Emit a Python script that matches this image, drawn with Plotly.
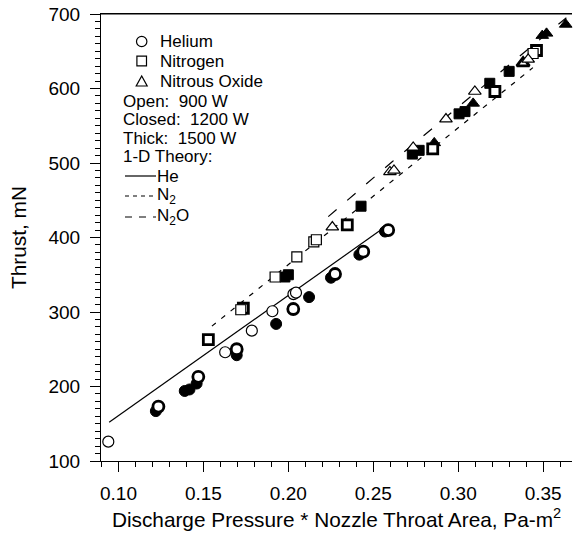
import plotly.graph_objects as go

# ---------------- data ----------------
# Helium
he_open_x = [0.094, 0.1628, 0.1785, 0.1906, 0.2030, 0.2045]
he_open_y = [126, 246, 275, 301, 324, 326]
he_closed_x = [0.1235, 0.147, 0.1696, 0.2029, 0.2275, 0.2441, 0.2588]
he_closed_y = [173, 213, 250, 304, 351, 381, 410]
he_thick_x = [0.122, 0.139, 0.1418, 0.146, 0.1696, 0.1928, 0.2122, 0.2251, 0.2418, 0.2569]
he_thick_y = [167, 194, 196, 204, 242, 284, 320, 346, 377, 408]

# Nitrogen
n2_open_x = [0.172, 0.1922, 0.205, 0.2150, 0.2165, 0.3441]
n2_open_y = [303, 347, 374, 394, 397, 647]
n2_closed_x = [0.1529, 0.1735, 0.2347, 0.285, 0.3216, 0.3461]
n2_closed_y = [263, 305, 417, 519, 596, 651]
n2_thick_x = [0.198, 0.200, 0.2428, 0.273, 0.277, 0.3005, 0.304, 0.3186, 0.330]
n2_thick_y = [347, 350, 442, 512, 517, 566, 569, 607, 623]

# Nitrous oxide
n2o_open_x = [0.2259, 0.2598, 0.2622, 0.2735, 0.2928, 0.3098, 0.3412]
n2o_open_y = [414, 488, 490, 521, 559, 596, 639]
n2o_closed_x = [0.3382]
n2o_closed_y = [634]
n2o_thick_x = [0.2859, 0.3088, 0.3495, 0.352, 0.3633]
n2o_thick_y = [527, 580, 671, 674, 686]

# 1-D theory curves
he_th_x = [0.0945, 0.255]
he_th_y = [152, 411]
n2_th_x = [0.155, 0.344]
n2_th_y = [281, 628]
n2o_th_x = [0.2235, 0.2613, 0.3216, 0.3637]
n2o_th_y = [428, 502, 616, 695]

x_ticks = [0.10, 0.15, 0.20, 0.25, 0.30, 0.35]
y_ticks = [100, 200, 300, 400, 500, 600, 700]

# ---------------- figure ----------------
W, H = 573, 536
ML, MR, MT, MB = 101, 1, 14, 75
FONT = "Liberation Sans, Arial, Helvetica, sans-serif"

fig = go.Figure()

# theory lines
fig.add_trace(go.Scatter(x=he_th_x, y=he_th_y, mode="lines",
                         line=dict(color="black", width=1.2), hoverinfo="skip"))
fig.add_trace(go.Scatter(x=n2_th_x, y=n2_th_y, mode="lines",
                         line=dict(color="black", width=1.2, dash="5px,7px"), hoverinfo="skip"))
fig.add_trace(go.Scatter(x=n2o_th_x, y=n2o_th_y, mode="lines",
                         line=dict(color="black", width=1.2, dash="11px,14px"), hoverinfo="skip"))

SYM = {"he": "circle", "n2": "square", "n2o": "triangle-up"}
SIZE = {"he": 11, "n2": 10, "n2o": 11}


def add_pts(xs, ys, gas, style):
    if style == "thick":
        m = dict(symbol=SYM[gas], size=SIZE[gas], color="black",
                 line=dict(color="black", width=1))
    elif style == "closed":
        m = dict(symbol=SYM[gas], size=SIZE[gas], color="white",
                 line=dict(color="black", width=2.8))
    else:
        m = dict(symbol=SYM[gas], size=SIZE[gas], color="white",
                 line=dict(color="black", width=1.2))
    fig.add_trace(go.Scatter(x=xs, y=ys, mode="markers", marker=m, cliponaxis=False))


add_pts(he_thick_x, he_thick_y, "he", "thick")
add_pts(n2_thick_x, n2_thick_y, "n2", "thick")
add_pts(n2o_thick_x, n2o_thick_y, "n2o", "thick")
add_pts(he_closed_x, he_closed_y, "he", "closed")
add_pts(n2_closed_x, n2_closed_y, "n2", "closed")
add_pts(n2o_closed_x, n2o_closed_y, "n2o", "closed")
add_pts(he_open_x, he_open_y, "he", "open")
add_pts(n2_open_x, n2_open_y, "n2", "open")
add_pts(n2o_open_x, n2o_open_y, "n2o", "open")

# ---------------- legend block (drawn in paper coords) ----------------
PW = W - ML - MR
PH = H - MT - MB


def px(x):
    return (x - ML) / PW


def py(y):
    return (H - MB - y) / PH


shapes = []
ann = []
cx = 141.7
shapes.append(dict(type="circle", xref="paper", yref="paper",
                   x0=px(cx - 5.2), x1=px(cx + 5.2), y0=py(41.5 + 5.2), y1=py(41.5 - 5.2),
                   line=dict(color="black", width=1.2)))
shapes.append(dict(type="rect", xref="paper", yref="paper",
                   x0=px(cx - 4.8), x1=px(cx + 4.8), y0=py(61 + 4.8), y1=py(61 - 4.8),
                   line=dict(color="black", width=1.2)))
tri = "M {},{} L {},{} L {},{} Z".format(px(cx - 5.5), py(86), px(cx + 5.5), py(86), px(cx), py(76))
shapes.append(dict(type="path", xref="paper", yref="paper", path=tri,
                   line=dict(color="black", width=1.2)))
# top frame line of the plot area
shapes.append(dict(type="line", xref="paper", yref="paper", x0=0, x1=1, y0=1, y1=1,
                   line=dict(color="black", width=1.2)))


def txt(x, y, s, size=17):
    ann.append(dict(x=px(x), y=py(y), xref="paper", yref="paper", text=s,
                    showarrow=False, xanchor="left", yanchor="middle",
                    font=dict(family=FONT, size=size, color="black")))


txt(158, 41.5, "Helium")
txt(158, 61, "Nitrogen")
txt(158, 81, "Nitrous Oxide")
txt(121, 101, "Open:\u00a0 900 W")
txt(121, 119.5, "Closed:\u00a0 1200 W")
txt(121, 138, "Thick:\u00a0 1500 W")
txt(121, 157, "1-D Theory:")
txt(155, 176, "He")
txt(155, 196.5, "N<sub>2</sub>")
txt(155, 217, "N<sub>2</sub>O")

shapes.append(dict(type="line", xref="paper", yref="paper",
                   x0=px(125), x1=px(156), y0=py(176), y1=py(176),
                   line=dict(color="black", width=1.2)))
shapes.append(dict(type="line", xref="paper", yref="paper",
                   x0=px(125), x1=px(156), y0=py(196), y1=py(196),
                   line=dict(color="black", width=1.2, dash="4px,4px")))
shapes.append(dict(type="line", xref="paper", yref="paper",
                   x0=px(125), x1=px(156), y0=py(217), y1=py(217),
                   line=dict(color="black", width=1.2, dash="7px,7px")))

fig.update_layout(
    width=W, height=H,
    margin=dict(l=ML, r=MR, t=MT, b=MB, pad=0, autoexpand=False),
    paper_bgcolor="white", plot_bgcolor="white",
    showlegend=False, hovermode=False,
    font=dict(family=FONT, size=19, color="black"),
    shapes=shapes, annotations=ann,
    xaxis=dict(range=[0.0897, 0.367], tickvals=x_ticks, tickformat=".2f",
               automargin=False, ticklabeloverflow="allow",
               showgrid=False, zeroline=False,
               showline=True, linecolor="black", linewidth=1, mirror=True,
               ticks="outside", ticklen=10, tickwidth=1, tickcolor="black",
               ticklabelstandoff=5,
               minor=dict(dtick=0.01, tick0=0.1, ticks="outside", ticklen=5,
                          tickwidth=1, tickcolor="black", showgrid=False),
               tickfont=dict(size=19, color="black"),
               title=dict(text="Discharge Pressure * Nozzle Throat Area, Pa-m<sup>2</sup>",
                          font=dict(size=20.8, color="black"), standoff=9)),
    yaxis=dict(range=[100, 700], tickvals=y_ticks,
               automargin=False, ticklabeloverflow="allow",
               showgrid=False, zeroline=False,
               showline=True, linecolor="black", linewidth=1,
               ticks="outside", ticklen=10, tickwidth=1, tickcolor="black",
               ticklabelstandoff=6,
               minor=dict(dtick=10, tick0=100, ticks="outside", ticklen=5,
                          tickwidth=1, tickcolor="black", showgrid=False),
               tickfont=dict(size=19, color="black"),
               title=dict(text="Thrust, mN", font=dict(size=20.8, color="black"), standoff=16)),
)

# remove the default page margin so the figure sits at the window's top-left corner
fig.write_html("out.html",
               config={"displayModeBar": False, "staticPlot": True},
               post_script="document.body.style.margin='0';document.body.style.overflow='hidden';")
